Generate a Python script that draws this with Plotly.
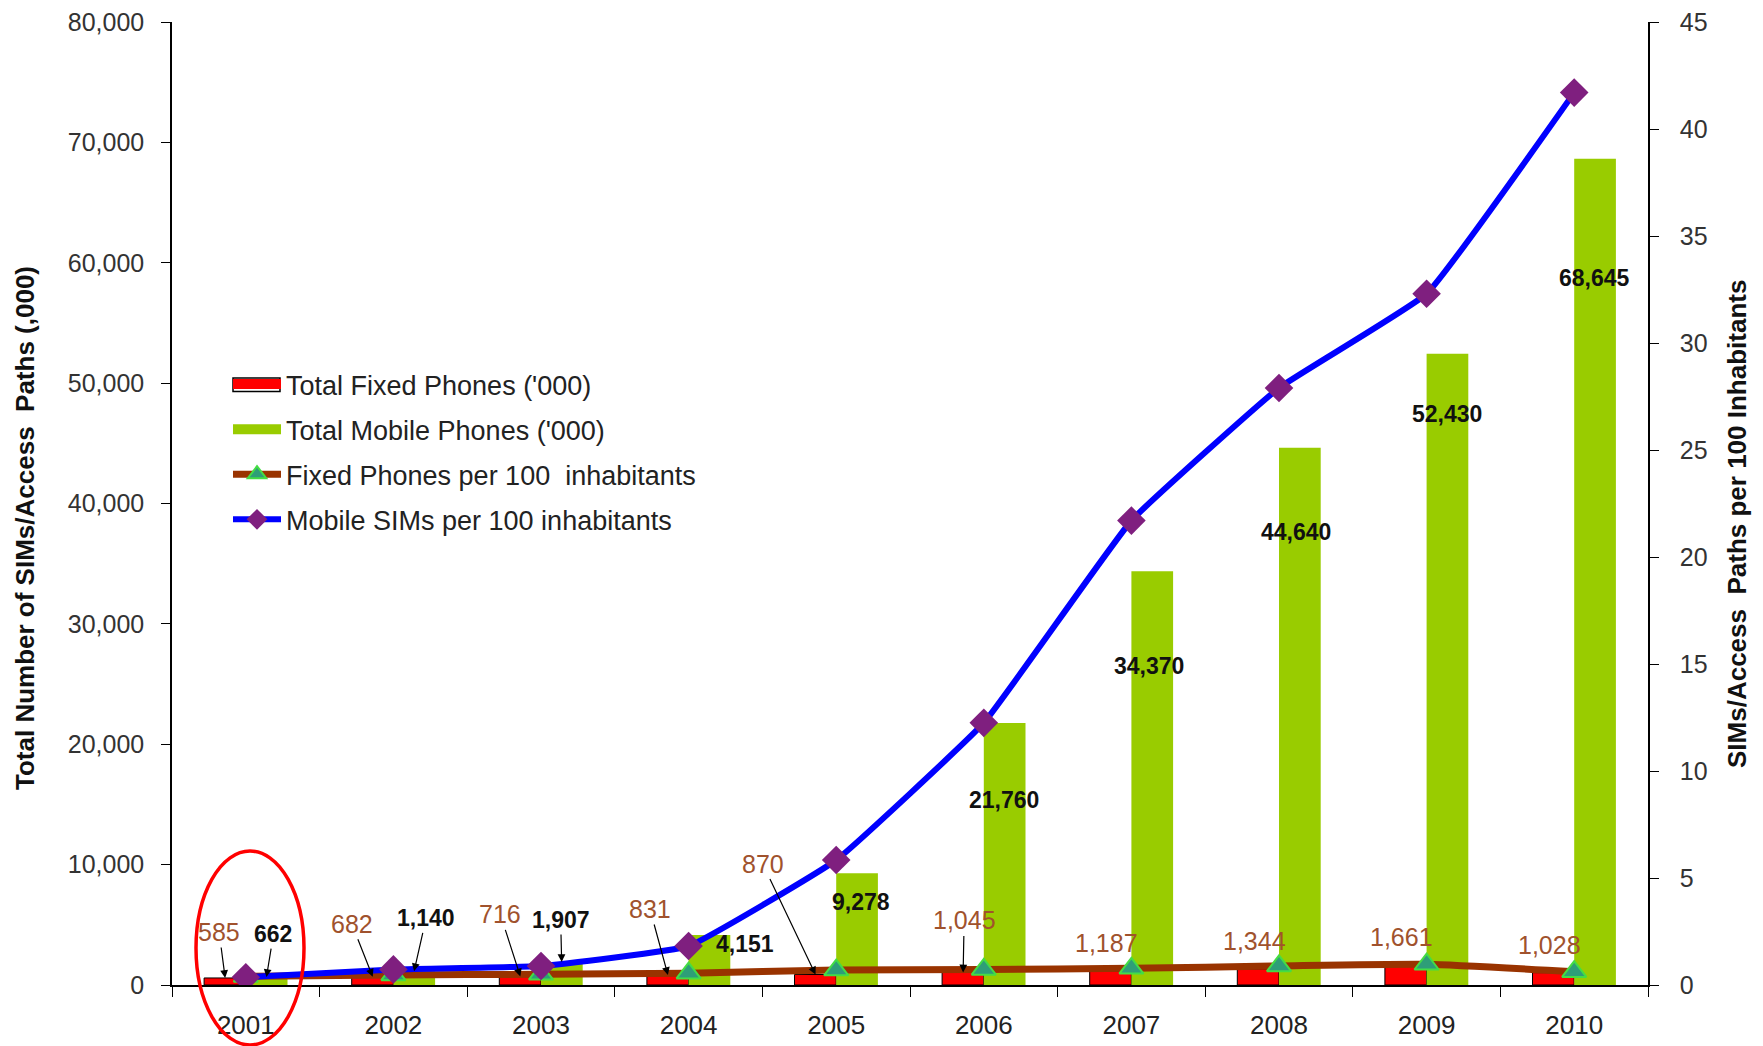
import plotly.graph_objects as go

years = ["2001", "2002", "2003", "2004", "2005", "2006", "2007", "2008", "2009", "2010"]
fixed_total = [585, 682, 716, 831, 870, 1045, 1187, 1344, 1661, 1028]
mobile_total = [662, 1140, 1907, 4151, 9278, 21760, 34370, 44640, 52430, 68645]
fixed_per100 = [0.40, 0.47, 0.50, 0.55, 0.70, 0.73, 0.78, 0.89, 0.97, 0.62]
mobile_per100 = [0.36, 0.73, 0.89, 1.82, 5.84, 12.25, 21.7, 27.9, 32.3, 41.7]

left_ticks = [0, 10000, 20000, 30000, 40000, 50000, 60000, 70000, 80000]
right_ticks = [0, 5, 10, 15, 20, 25, 30, 35, 40, 45]

W, H = 1763, 1046
ML, MR, MT, MB = 172, 115, 22, 61
PW, PH = W - ML - MR, H - MT - MB
BAR_OFF = 0.14

FONT = "Liberation Sans, Arial, sans-serif"
BROWN_TXT = "#A0522D"
RED = "#FF0000"
GREEN = "#99CC00"


def px_x(p):
    return (p - ML) / PW


def px_y(p):
    return (H - MB - p) / PH


fig = go.Figure()
fig.add_trace(go.Bar(x=years, y=fixed_total, name="Total Fixed Phones ('000)",
                     marker=dict(color=RED, line=dict(color="#000000", width=1)),
                     showlegend=False, yaxis="y"))
fig.add_trace(go.Bar(x=years, y=mobile_total, name="Total Mobile Phones ('000)",
                     marker=dict(color=GREEN, line=dict(width=0)),
                     showlegend=False, yaxis="y"))
# legend entries for the bars (wide rectangles like the original)
fig.add_trace(go.Scatter(x=[None], y=[None], mode="lines", name="Total Fixed Phones ('000)",
                         line=dict(color=RED, width=13), legendgroup="a", yaxis="y"))
fig.add_trace(go.Scatter(x=[None], y=[None], mode="lines", name="Total Mobile Phones ('000)",
                         line=dict(color=GREEN, width=13), legendgroup="b", yaxis="y"))
fig.add_trace(go.Scatter(x=years, y=fixed_per100, name="Fixed Phones per 100\u00a0 inhabitants",
                         mode="lines+markers", yaxis="y2", legendgroup="c",
                         line=dict(color="#993300", width=7, shape="spline", smoothing=0.5),
                         marker=dict(symbol="triangle-up", size=21, color="#2E9E78",
                                     line=dict(color="#44DD44", width=2))))
fig.add_trace(go.Scatter(x=years, y=mobile_per100, name="Mobile SIMs per 100 inhabitants",
                         mode="lines+markers", yaxis="y2", legendgroup="d",
                         line=dict(color="#0000FF", width=6, shape="spline", smoothing=0.3),
                         marker=dict(symbol="diamond", size=22, color="#7F1F7F",
                                     line=dict(width=0))))

annotations = []
fixed_arrow_off = {0: (-6, -46), 1: (-21, -53), 2: (-20, -62), 3: (-18, -66), 4: (-53, -111), 5: (1, -52)}
for i, v in enumerate(fixed_total):
    txt = f"{v:,}"
    if i in fixed_arrow_off:
        ax, ay = fixed_arrow_off[i]
        annotations.append(dict(x=i - BAR_OFF, y=v, xref="x", yref="y", text=txt,
                                showarrow=True, ax=ax, ay=ay, arrowhead=2, arrowsize=1.3,
                                arrowwidth=1.2, arrowcolor="#000000", standoff=0,
                                font=dict(family=FONT, size=25, color=BROWN_TXT)))
    else:
        annotations.append(dict(x=i - BAR_OFF, y=v, xref="x", yref="y", text=txt,
                                showarrow=False, yanchor="bottom", yshift=12, xshift=-4,
                                font=dict(family=FONT, size=25, color=BROWN_TXT)))

mobile_arrow_off = {0: (7, -43), 1: (12, -53), 2: (-1, -42)}
mobile_shift = {3: (36, -9), 4: (4, -29), 5: (0, -77), 6: (-3, -95), 7: (-4, -84), 8: (0, -60), 9: (0, -119)}
for i, v in enumerate(mobile_total):
    txt = f"<b>{v:,}</b>"
    if i in mobile_arrow_off:
        ax, ay = mobile_arrow_off[i]
        annotations.append(dict(x=i + BAR_OFF, y=v, xref="x", yref="y", text=txt,
                                showarrow=True, ax=ax, ay=ay, arrowhead=2, arrowsize=1.3,
                                arrowwidth=1.2, arrowcolor="#000000", standoff=0,
                                font=dict(family=FONT, size=23, color="#111111")))
    else:
        xs, ys = mobile_shift[i]
        annotations.append(dict(x=i + BAR_OFF, y=v, xref="x", yref="y", text=txt,
                                showarrow=False, xshift=xs, yshift=ys,
                                font=dict(family=FONT, size=23, color="#111111")))

annotations.append(dict(text="<b>Total Number of SIMs/Access\u00a0 Paths (,000)</b>",
                        xref="paper", yref="paper", x=px_x(25), y=px_y(528),
                        xanchor="center", yanchor="middle",
                        textangle=-90, showarrow=False,
                        font=dict(family=FONT, size=26, color="#111111")))
annotations.append(dict(text="<b>SIMs/Access\u00a0 Paths per 100 Inhabitants</b>",
                        xref="paper", yref="paper", x=px_x(1737), y=px_y(524),
                        xanchor="center", yanchor="middle",
                        textangle=-90, showarrow=False,
                        font=dict(family=FONT, size=26, color="#111111")))

shapes = [
    dict(type="circle", xref="paper", yref="paper",
         x0=px_x(196), x1=px_x(304), y0=px_y(1045), y1=px_y(851),
         line=dict(color=RED, width=3.5)),
    # outline of the red legend swatch
    dict(type="rect", xref="paper", yref="paper",
         x0=px_x(233), x1=px_x(280), y0=px_y(391.5), y1=px_y(378),
         line=dict(color="#000000", width=1.5), fillcolor="rgba(0,0,0,0)"),
]

fig.update_layout(
    width=W, height=H,
    margin=dict(l=ML, r=MR, t=MT, b=MB, autoexpand=False),
    paper_bgcolor="white", plot_bgcolor="white",
    barmode="group", bargap=0.435, bargroupgap=0,
    font=dict(family=FONT, color="#222222"),
    xaxis=dict(type="category", range=[-0.5, 9.5], tickson="boundaries", ticks="outside",
               ticklen=10, tickcolor="#000000", showline=True, linecolor="#000000",
               linewidth=1.5, showgrid=False, tickfont=dict(family=FONT, size=26, color="#222222"),
               ticklabelstandoff=16, zeroline=False),
    yaxis=dict(range=[0, 80000], tickvals=left_ticks, tickformat=",d", ticks="outside",
               ticklen=9, tickcolor="#000000", showline=True, linecolor="#000000",
               linewidth=1.5, showgrid=False, zeroline=False,
               tickfont=dict(family=FONT, size=25, color="#333333"), ticklabelstandoff=12),
    yaxis2=dict(range=[0, 45], tickvals=right_ticks, overlaying="y", side="right",
                ticks="outside", ticklen=9, tickcolor="#000000", showline=True,
                linecolor="#000000", linewidth=1.5, showgrid=False, zeroline=False,
                tickfont=dict(family=FONT, size=25, color="#333333"), ticklabelstandoff=16),
    legend=dict(x=px_x(228), y=px_y(360), xanchor="left", yanchor="top",
                bgcolor="rgba(0,0,0,0)", font=dict(family=FONT, size=27, color="#222222"),
                itemwidth=48, traceorder="grouped", tracegroupgap=7),
    annotations=annotations,
    shapes=shapes,
)

fig.write_html("out.html")
